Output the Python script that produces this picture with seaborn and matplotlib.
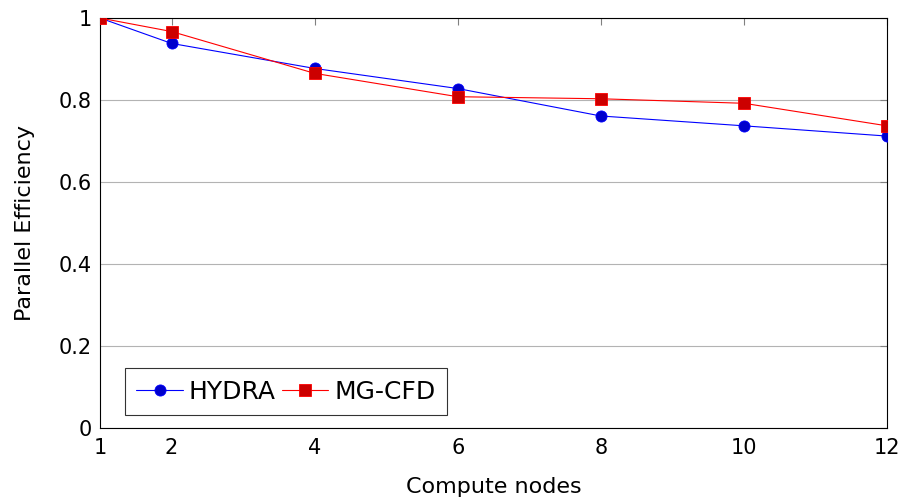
import matplotlib
matplotlib.use("Agg")
import matplotlib.pyplot as plt
import seaborn as sns
import pandas as pd

nodes = [1, 2, 4, 6, 8, 10, 12]
hydra_eff = [1.0, 0.938, 0.877, 0.828, 0.761, 0.737, 0.712]
mgcfd_eff = [1.0, 0.967, 0.865, 0.808, 0.803, 0.792, 0.737]
x_ticks = [1, 2, 4, 6, 8, 10, 12]
y_ticks = [0, 0.2, 0.4, 0.6, 0.8, 1.0]
y_tick_labels = ["0", "0.2", "0.4", "0.6", "0.8", "1"]

sns.set_theme(style="white")
plt.rcParams["font.family"] = ["DejaVu Sans"]
plt.rcParams["text.color"] = "black"
plt.rcParams["axes.labelcolor"] = "black"
plt.rcParams["xtick.color"] = "black"
plt.rcParams["ytick.color"] = "black"

hydra = pd.DataFrame({"nodes": nodes, "eff": hydra_eff})
mgcfd = pd.DataFrame({"nodes": nodes, "eff": mgcfd_eff})

fig = plt.figure(figsize=(9.05, 5.03), dpi=100)
ax = fig.add_axes([100 / 905, 75 / 503, 787 / 905, 410 / 503])

sns.lineplot(data=hydra, x="nodes", y="eff", ax=ax, color="#0000ff",
             marker="o", markersize=8, markerfacecolor="#0000cc",
             markeredgecolor="#0000ff", markeredgewidth=0.6,
             linewidth=0.8, label="HYDRA", zorder=3)
sns.lineplot(data=mgcfd, x="nodes", y="eff", ax=ax, color="#ff0000",
             marker="s", markersize=8, markerfacecolor="#cc0000",
             markeredgecolor="#ff0000", markeredgewidth=0.6,
             linewidth=0.8, label="MG-CFD", zorder=4)

ax.set_xlim(1, 12)
ax.set_ylim(0, 1)
ax.set_xticks(x_ticks)
ax.set_xticklabels([str(t) for t in x_ticks])
ax.set_yticks(y_ticks)
ax.set_yticklabels(y_tick_labels)
ax.yaxis.grid(True, color="#b3b3b3", linewidth=0.8)
ax.xaxis.grid(False)

for s in ax.spines.values():
    s.set_color("black")
    s.set_linewidth(0.8)

ax.tick_params(axis="both", direction="in", length=5, width=0.8,
               color="#808080", labelcolor="black", top=True, right=True,
               labelsize=15)
ax.tick_params(axis="x", pad=7)
ax.tick_params(axis="y", pad=6)

ax.set_xlabel("Compute nodes", fontsize=16, labelpad=14, color="black")
ax.set_ylabel("Parallel Efficiency", fontsize=16, labelpad=17, color="black")

leg = ax.legend(loc="lower left", bbox_to_anchor=(0.032, 0.032), ncol=2,
                fontsize=18, frameon=True, fancybox=False, handlelength=1.85,
                handletextpad=0.25, columnspacing=0.25, borderpad=0.45,
                borderaxespad=0)
leg.get_frame().set_edgecolor("black")
leg.get_frame().set_linewidth(0.8)
for t in leg.get_texts():
    t.set_color("black")

fig.savefig("out.png", dpi=100)
